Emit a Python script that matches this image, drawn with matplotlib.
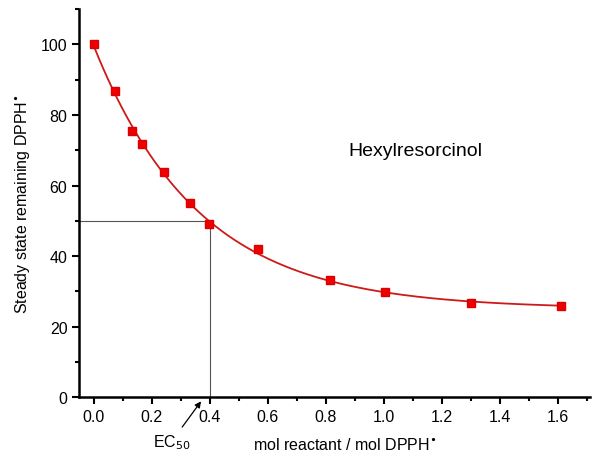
import numpy as np
import matplotlib.pyplot as plt
from matplotlib.ticker import MultipleLocator

plt.rcParams['font.family'] = ['Liberation Sans', 'DejaVu Sans']

# mol reactant / mol DPPH* vs. steady state remaining DPPH*
ratio = [0.0, 0.073, 0.131, 0.167, 0.242, 0.332, 0.397, 0.565, 0.814, 1.005, 1.30, 1.61]
remaining = [100.0, 86.8, 75.4, 71.7, 63.8, 55.1, 49.1, 42.1, 33.2, 29.7, 26.6, 25.8]
ec50 = 0.4

x = np.array(ratio)
y = np.array(remaining)

# exponential decay fit y = y0 + A*exp(-x/t): scan t, solve y0, A by least squares
best = None
for t in np.linspace(0.05, 2.0, 2000):
    M = np.column_stack([np.ones_like(x), np.exp(-x / t)])
    coef, res, _, _ = np.linalg.lstsq(M, y, rcond=None)
    err = np.sum((M @ coef - y) ** 2)
    if best is None or err < best[0]:
        best = (err, t, coef)
_, tau, (y0, amp) = best
xf = np.linspace(0, x.max(), 300)
yf = y0 + amp * np.exp(-xf / tau)

fig = plt.figure(figsize=(6, 4.64), dpi=100)
ax = fig.add_axes([0.132, 0.142, 0.851, 0.836])

ax.plot([-0.05, ec50], [50, 50], color='#555555', lw=0.8)
ax.plot([ec50, ec50], [0, 50], color='#555555', lw=0.8)

ax.plot(xf, yf, color='#cc1a1a', lw=1.3)
ax.plot(x, y, 's', color='#ee0000', ms=5.5, mec='#dd0000')

ax.set_xlim(-0.05, 1.71)
ax.set_ylim(0, 110)
ax.xaxis.set_minor_locator(MultipleLocator(0.1))
ax.yaxis.set_minor_locator(MultipleLocator(10))
ax.set_xticks(np.arange(0, 1.61, 0.2))
ax.set_xticklabels(['%.1f' % v for v in np.arange(0, 1.61, 0.2)])
ax.set_yticks(np.arange(0, 101, 20))

for s in ['top', 'right']:
    ax.spines[s].set_visible(False)
for s in ['left', 'bottom']:
    ax.spines[s].set_linewidth(1.8)
ax.tick_params(which='major', direction='out', length=5, width=1.5, labelsize=11.5)
ax.tick_params(which='minor', direction='out', length=3, width=1.5)

ax.set_xlabel('mol reactant / mol DPPH$^{\\bullet}$', fontsize=11.5)
ax.set_ylabel('Steady state remaining DPPH$^{\\bullet}$', fontsize=11.5, labelpad=6)
ax.xaxis.set_label_coords(0.52, -0.1)

ax.text(1.11, 70, 'Hexylresorcinol', fontsize=14, ha='center', va='center')

# EC50 label with arrow pointing at the axis
ax.text(0.27, -12.5, 'EC$_{50}$', fontsize=11.5, ha='center', va='center', clip_on=False)
ax.annotate('', xy=(0.37, -1.2), xytext=(0.305, -8.5), textcoords='data',
            annotation_clip=False,
            arrowprops=dict(arrowstyle='-|>', color='black', lw=0.9,
                            shrinkA=0, shrinkB=0, mutation_scale=9))

fig.savefig('out.png', dpi=100)
